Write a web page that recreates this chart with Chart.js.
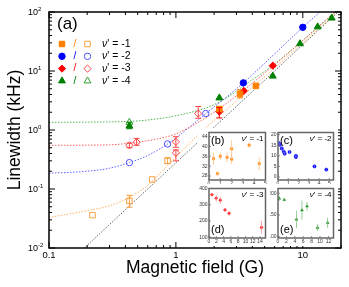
<!DOCTYPE html>
<html>
<head>
<meta charset="utf-8">
<script src="https://cdn.jsdelivr.net/npm/chart.js@4"></script>
<style>
  body { margin: 0; background: #fff; }
  #wrap { position: relative; width: 349px; height: 287px; }
  canvas { position: absolute; background: #fff; }
</style>
</head>
<body>
<div id="wrap">
  <canvas id="main" width="349" height="287" style="left:0;top:0"></canvas>
  <canvas id="insetB" width="72" height="57" style="left:198px;top:128px"></canvas>
  <canvas id="insetC" width="68" height="57" style="left:270px;top:128px"></canvas>
  <canvas id="insetD" width="72" height="62" style="left:198px;top:184px"></canvas>
  <canvas id="insetE" width="68" height="62" style="left:270px;top:184px"></canvas>
</div>
<script>
const FONT = "'Liberation Sans', Arial, sans-serif";
Chart.defaults.font.family = FONT;
Chart.defaults.color = '#000';

// ---- main panel (a) data ----
const xTicksMain = [0.1, 1, 10];
const xTickLabels = ['0.1', '1', '10'];
const yTicksMain = [0.01, 0.1, 1, 10, 100];
const yTickExp = ['-2', '-1', '0', '1', '2'];

// filled symbols
const orangeX = [2.2, 3.2, 4.27];
const orangeY = [2.27, 4.1, 5.6];
const blueX = [3.4, 10];
const blueY = [6.3, 55];
const redX = [2.2, 3.43, 5.8];
const redY = [2.05, 4.6, 12.3];
const greenX = [0.43, 2.2, 5.8, 9.5, 13.1, 16.9];
const greenY = [1.17, 3.5, 8.2, 29, 56, 79];

// open symbols
const orangeOpenX = [0.22, 0.43, 0.65, 0.86];
const orangeOpenY = [0.036, 0.063, 0.145, 0.30];
const blueOpenX = [0.43, 0.86, 1.72];
const blueOpenY = [0.28, 0.58, 1.9];
const redOpenX = [0.43, 0.49, 1.0, 1.0, 1.5];
const redOpenY = [0.55, 0.62, 0.63, 0.41, 1.9];
const greenOpenX = [0.43];
const greenOpenY = [1.35];

// error bars (low / high), null = none
const orangeErrLo = [null, 3.5, null];
const orangeErrHi = [null, 4.8, null];
const redErrLo = [1.6, null, null];
const redErrHi = [2.4, null, null];
const greenErrLo = [1.05, null, null, null, null, null];
const greenErrHi = [1.35, null, null, null, null, null];
const orangeOpenErrLo = [null, 0.049, null, 0.27];
const orangeOpenErrHi = [null, 0.078, null, 0.34];
const redOpenErrLo = [0.5, 0.55, 0.51, 0.30, 1.58];
const redOpenErrHi = [0.6, 0.72, 0.77, 0.46, 2.5];

// dotted fit curves
const grayFitX = [0.18, 20];
const grayFitY = [0.009, 112];
const orangeFitX = [0.1, 0.2, 0.3, 0.43, 0.55, 0.65, 0.86, 1.2, 1.55, 2.1, 3, 5, 10, 20];
const orangeFitY = [0.033, 0.043, 0.052, 0.072, 0.1, 0.135, 0.25, 0.52, 0.88, 1.6, 3.1, 8, 30, 115];
const redFitX = [0.1, 0.3, 0.43, 0.7, 1, 1.5, 2.2, 3.4, 5.8, 10, 20];
const redFitY = [0.55, 0.56, 0.6, 0.7, 0.86, 1.35, 2.3, 4.7, 12, 33, 125];
const blueFitX = [0.1, 0.2, 0.3, 0.43, 0.6, 0.86, 1.2, 1.72, 2.5, 3.4, 5, 10, 14];
const blueFitY = [0.185, 0.2, 0.225, 0.28, 0.37, 0.58, 1.0, 1.9, 3.6, 6.3, 13.5, 55, 105];
const greenFitX = [0.1, 0.43, 0.8, 1.2, 1.85, 2.5, 3.5, 5.8, 10, 20];
const greenFitY = [1.35, 1.4, 1.6, 1.9, 2.5, 3.5, 5.8, 12.5, 33, 120];

// legend
const legendText = ['-1', '-2', '-3', '-4'];
const legendStyle = ['rect', 'circle', 'rectRot', 'triangle'];
const legendColor = ['#FF8000', '#0000FF', '#FF0000', '#008000'];
const legendOpenColor = ['#F9A040', '#4F4FFF', '#FF4848', '#30A030'];
const legendRadius = [3.9, 3.2, 3.6, 4];

// ---- inset data ----
const bX = [0.4, 0.75, 1.0, 1.6, 2.0, 2.0, 3.55, 4.45];
const bY = [35, 29, 36, 35.5, 39, 34.8, 40.5, 33];
const bErr = [2.5, 0.8, 1.5, 2, 3.5, 2, 1, 2.5];
const bXTicks = [0, 1, 2, 3, 4, 5];
const bYTicks = [28, 32, 36, 40, 44];

const cX = [0.09, 0.19, 0.37, 0.56, 0.65, 1.12, 1.74, 1.74, 3.55, 4.7];
const cY = [16, 15.2, 13.5, 12, 11, 11.8, 10, 9.4, 5, 3.5];
const cErr = [1, 1, 0.8, 0.8, 0.8, 0.6, 0.6, 0.6, 0.5, 0.5];
const cXTicks = [0, 1, 2, 3, 4, 5];
const cYTicks = [0, 5, 10, 15, 20];

const dX = [0.8, 2.0, 3.1, 4.4, 5.5, 14.4];
const dY = [362, 340, 328, 268, 247, 160];
const dErr = [10, 20, 22, 8, 15, 40];
const dXTicks = [0, 2, 4, 6, 8, 10, 12, 14];
const dYTicks = [100, 200, 300, 400];

const eX = [0.3, 1.5, 4.4, 5.7, 6.9, 9.4, 11.8];
const eY = [188, 185, 140, 161, 170, 121, 132];
const eErr = [6, 4, 20, 22, 10, 8, 12];
const eXTicks = [0, 2, 4, 6, 8, 10, 12];
const eYTicks = [100, 150, 200];

const pts = (xs, ys) => xs.map((x, i) => ({x: x, y: ys[i]}));

// vertical error bars drawn through the chart's own scales
const errorBars = {
  id: 'errorBars',
  afterDatasetsDraw(chart, args, o) {
    const ctx = chart.ctx, xs = chart.scales.x, ys = chart.scales.y;
    ctx.save();
    ctx.lineWidth = o.width || 1;
    chart.data.datasets.forEach(ds => {
      if (!ds.errLo) return;
      ctx.strokeStyle = ds.errColor || ds.borderColor;
      ds.data.forEach((p, i) => {
        const lo = ds.errLo[i], hi = ds.errHi[i];
        if (lo == null) return;
        const px = xs.getPixelForValue(p.x);
        const y1 = ys.getPixelForValue(lo), y2 = ys.getPixelForValue(hi);
        ctx.beginPath();
        ctx.moveTo(px, y1); ctx.lineTo(px, y2);
        if (o.cap) {
          ctx.moveTo(px - o.cap, y1); ctx.lineTo(px + o.cap, y1);
          ctx.moveTo(px - o.cap, y2); ctx.lineTo(px + o.cap, y2);
        }
        ctx.stroke();
      });
    });
    ctx.restore();
  }
};

// box frame + inward ticks on all sides
const frame = {
  id: 'frame',
  afterDraw(chart, args, o) {
    const {ctx, chartArea: a, scales: {x, y}} = chart;
    ctx.save();
    ctx.strokeStyle = o.color;
    ctx.lineWidth = o.tickWidth;
    ctx.beginPath();
    const tx = (v, len) => {
      const p = x.getPixelForValue(v);
      if (p < a.left - 0.5 || p > a.right + 0.5) return;
      ctx.moveTo(p, a.bottom); ctx.lineTo(p, a.bottom - len);
      if (o.mirror) { ctx.moveTo(p, a.top); ctx.lineTo(p, a.top + len); }
    };
    const ty = (v, len) => {
      const p = y.getPixelForValue(v);
      if (p < a.top - 0.5 || p > a.bottom + 0.5) return;
      ctx.moveTo(a.left, p); ctx.lineTo(a.left + len, p);
      if (o.mirror) { ctx.moveTo(a.right, p); ctx.lineTo(a.right - len, p); }
    };
    (o.xMajor || []).forEach(v => tx(v, o.major));
    (o.xMinor || []).forEach(v => tx(v, o.minor));
    (o.yMajor || []).forEach(v => ty(v, o.major));
    (o.yMinor || []).forEach(v => ty(v, o.minor));
    ctx.stroke();
    ctx.lineWidth = o.width;
    ctx.strokeRect(a.left, a.top, a.right - a.left, a.bottom - a.top);
    ctx.restore();
  }
};

function drawNu(ctx, x, y, size, rest, align) {
  ctx.font = size + 'px ' + FONT;
  const w = ctx.measureText(rest).width;
  ctx.font = 'italic ' + size + 'px ' + FONT;
  const wn = ctx.measureText('ν').width;
  const left = align === 'right' ? x - w - wn : x;
  ctx.textAlign = 'left';
  ctx.fillText('ν', left, y);
  ctx.font = size + 'px ' + FONT;
  ctx.fillText(rest, left + wn, y);
}

// y labels 10^n and the in-plot legend of panel (a)
const mainDecor = {
  id: 'mainDecor',
  afterDraw(chart) {
    const {ctx, scales: {y}, chartArea: a} = chart;
    ctx.save();
    ctx.fillStyle = '#000';
    ctx.textBaseline = 'middle';
    ctx.textAlign = 'left';
    yTicksMain.forEach((v, i) => {
      const py = y.getPixelForValue(v);
      ctx.font = '9px ' + FONT;
      ctx.fillText('10', 28, py + 1);
      const w = ctx.measureText('10').width;
      ctx.font = '6px ' + FONT;
      ctx.fillText(yTickExp[i], 28 + w, py - 3);
    });
    ctx.font = '17px ' + FONT;
    ctx.fillText('(a)', a.left + 8, a.top + 12);
    const H = Chart.helpers;
    legendText.forEach((t, i) => {
      const ly = a.top + 32 + i * 12.3;
      ctx.fillStyle = legendColor[i];
      ctx.strokeStyle = legendColor[i];
      H.drawPoint(ctx, {pointStyle: legendStyle[i], radius: legendRadius[i], rotation: 0, borderWidth: 1}, a.left + 13, ly);
      ctx.fillStyle = 'rgba(0,0,0,0)';
      ctx.strokeStyle = legendOpenColor[i];
      H.drawPoint(ctx, {pointStyle: legendStyle[i], radius: legendRadius[i], rotation: 0, borderWidth: 1}, a.left + 38.5, ly);
      ctx.fillStyle = legendColor[i];
      ctx.font = '10px ' + FONT;
      ctx.textAlign = 'center';
      ctx.fillText('/', a.left + 26, ly);
      ctx.fillStyle = '#000';
      drawNu(ctx, a.left + 53, ly, 10.5, "' = " + t, 'left');
    });
    ctx.restore();
  }
};

function fit(xs, ys, color) {
  return {data: pts(xs, ys), borderColor: color, borderWidth: 1, borderDash: [1.5, 1.5],
    pointRadius: 0, showLine: true, cubicInterpolationMode: 'monotone', order: 2};
}
function marks(xs, ys, style, r, fill, stroke, lo, hi) {
  return {data: pts(xs, ys), showLine: false, pointStyle: style, pointRadius: r,
    backgroundColor: fill, borderColor: stroke, pointBorderWidth: 1, order: 0,
    errLo: lo, errHi: hi};
}

const xMinorMain = [];
[0.1, 1, 10].forEach(d => { for (let k = 2; k <= 9; k++) if (d * k <= 20) xMinorMain.push(d * k); });
const yMinorMain = [];
[0.01, 0.1, 1, 10].forEach(d => { for (let k = 2; k <= 9; k++) yMinorMain.push(d * k); });

new Chart(document.getElementById('main'), {
  type: 'line',
  data: {
    datasets: [
      marks(orangeX, orangeY, 'rect', 3.9, '#FF8000', '#FF8000', orangeErrLo, orangeErrHi),
      marks(blueX, blueY, 'circle', 3.2, '#0000FF', '#0000FF'),
      marks(redX, redY, 'rectRot', 3.6, '#FF0000', '#FF0000', redErrLo, redErrHi),
      marks(greenX, greenY, 'triangle', 4, '#008000', '#008000', greenErrLo, greenErrHi),
      marks(orangeOpenX, orangeOpenY, 'rect', 3.9, 'rgba(0,0,0,0)', '#F9A040', orangeOpenErrLo, orangeOpenErrHi),
      marks(blueOpenX, blueOpenY, 'circle', 3.2, 'rgba(0,0,0,0)', '#4F4FFF'),
      marks(redOpenX, redOpenY, 'rectRot', 3.6, 'rgba(0,0,0,0)', '#FF4848', redOpenErrLo, redOpenErrHi),
      marks(greenOpenX, greenOpenY, 'triangle', 4, 'rgba(0,0,0,0)', '#30A030'),
      fit(grayFitX, grayFitY, '#666666'),
      fit(orangeFitX, orangeFitY, '#FFB060'),
      fit(redFitX, redFitY, '#FF6060'),
      fit(blueFitX, blueFitY, '#6060FF'),
      fit(greenFitX, greenFitY, '#50B850')
    ]
  },
  options: {
    responsive: false,
    animation: false,
    layout: {padding: {left: 0, top: 12, right: 8, bottom: 0}},
    plugins: {
      legend: {display: false},
      tooltip: {enabled: false},
      errorBars: {cap: 3, width: 1},
      frame: {color: '#000', width: 1.5, tickWidth: 1, major: 6, minor: 3, mirror: true,
        xMajor: xTicksMain, xMinor: xMinorMain, yMajor: yTicksMain, yMinor: yMinorMain}
    },
    scales: {
      x: {
        type: 'logarithmic', min: 0.1, max: 20,
        afterBuildTicks: s => { s.ticks = xTicksMain.map(v => ({value: v})); },
        afterFit: s => { s.height = 39; },
        grid: {display: false, drawTicks: false}, border: {display: false},
        ticks: {autoSkip: false, maxRotation: 0, padding: 2, font: {size: 9.5},
          callback: (v, i) => xTickLabels[i]},
        title: {display: true, text: 'Magnetic field (G)', font: {size: 17.5},
          padding: {top: 0, bottom: 8}}
      },
      y: {
        type: 'logarithmic', min: 0.01, max: 100,
        afterFit: s => { s.width = 49; },
        grid: {display: false, drawTicks: false}, border: {display: false},
        ticks: {display: false},
        title: {display: true, text: 'Linewidth (kHz)', font: {size: 17.5},
          padding: {top: 5, bottom: 0}}
      }
    }
  },
  plugins: [errorBars, frame, mainDecor]
});

// ---- insets (b)-(e) ----
const panelText = {
  id: 'panelText',
  afterDraw(chart, args, o) {
    const {ctx, chartArea: a} = chart;
    ctx.save();
    ctx.fillStyle = '#000';
    ctx.textBaseline = 'middle';
    ctx.textAlign = 'left';
    ctx.font = '11px ' + FONT;
    ctx.fillText(o.label, a.left + 2, o.bottom ? a.bottom - 8 : a.top + 8);
    drawNu(ctx, a.right - 2, a.top + 6, 8, "' = " + o.nu, 'right');
    ctx.restore();
  }
};

function inset(id, xs, ys, errs, color, errColor, style, xTicks, yTicks, xr, yr, yw, xh, pad, label, nu, bottom) {
  new Chart(document.getElementById(id), {
    type: 'line',
    data: {
      datasets: [{
        data: pts(xs, ys), showLine: false, pointStyle: style, pointRadius: 1.6,
        backgroundColor: color, borderColor: color, pointBorderWidth: 0.5,
        errLo: ys.map((v, i) => v - errs[i]), errHi: ys.map((v, i) => v + errs[i]), errColor: errColor
      }]
    },
    options: {
      responsive: false,
      animation: false,
      layout: {padding: pad},
      plugins: {
        legend: {display: false},
        tooltip: {enabled: false},
        errorBars: {width: 0.8},
        frame: {color: '#666', width: 1.5, tickWidth: 0.7, major: 2, minor: 0, mirror: false,
          xMajor: xTicks, yMajor: yTicks},
        panelText: {label: label, nu: nu, bottom: bottom}
      },
      scales: {
        x: {
          type: 'linear', min: xr[0], max: xr[1],
          afterBuildTicks: s => { s.ticks = xTicks.map(v => ({value: v})); },
          afterFit: s => { s.height = xh; },
          grid: {display: false, drawTicks: false}, border: {display: false},
          ticks: {autoSkip: false, maxRotation: 0, padding: 1, font: {size: 5}, color: '#333'}
        },
        y: {
          type: 'linear', min: yr[0], max: yr[1],
          afterBuildTicks: s => { s.ticks = yTicks.map(v => ({value: v})); },
          afterFit: s => { s.width = yw; },
          grid: {display: false, drawTicks: false}, border: {display: false},
          ticks: {autoSkip: false, padding: 1.5, font: {size: 5}, color: '#333'}
        }
      }
    },
    plugins: [errorBars, frame, panelText]
  });
}

inset('insetB', bX, bY, bErr, '#FF8000', '#FFC080', 'rect', bXTicks, bYTicks,
  [0, 5], [26.4, 45.6], 11, 5, {left: 0, top: 4, right: 2, bottom: 0}, '(b)', '-1', false);
inset('insetC', cX, cY, cErr, '#0000FF', '#8080FF', 'circle', cXTicks, cYTicks,
  [0, 5.4], [-1.4, 21], 8, 5, {left: 0, top: 4, right: 2, bottom: 0}, '(c)', '-2', false);
inset('insetD', dX, dY, dErr, '#FF0000', '#FF9090', 'rectRot', dXTicks, dYTicks,
  [0, 15.5], [95, 400], 11, 8, {left: 0, top: 4, right: 2, bottom: 0}, '(d)', '-3', true);
inset('insetE', eX, eY, eErr, '#008000', '#80C080', 'triangle', eXTicks, eYTicks,
  [0, 13.2], [97, 211], 8, 8, {left: 0, top: 4, right: 1, bottom: 0}, '(e)', '-4', true);
</script>
</body>
</html>
